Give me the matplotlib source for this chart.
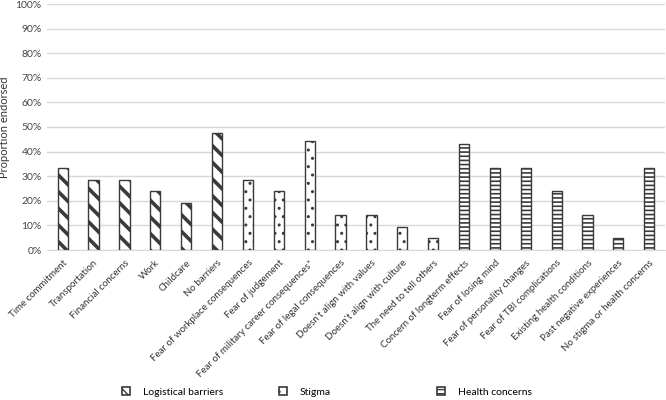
import matplotlib
matplotlib.use("Agg")
import matplotlib.pyplot as plt
from matplotlib.patches import Patch

plt.rcParams['font.family'] = ['Lato', 'DejaVu Sans']

logistical_labels = ["Time commitment", "Transportation", "Financial concerns", "Work",
                     "Childcare", "No barriers"]
logistical_values = [33.3, 28.6, 28.6, 23.8, 19.0, 47.6]

stigma_labels = ["Fear of workplace consequences", "Fear of judgement",
                 "Fear of military career consequences*", "Fear of legal consequences",
                 "Doesn't align with values", "Doesn't align with culture",
                 "The need to tell others"]
stigma_values = [28.6, 23.8, 44.4, 14.3, 14.3, 9.5, 4.8]

health_labels = ["Concern of longterm effects", "Fear of losing mind",
                 "Fear of personality changes", "Fear of TBI complications",
                 "Existing health conditions", "Past negative experiences",
                 "No stigma or health concerns"]
health_values = [42.9, 33.3, 33.3, 23.8, 14.3, 4.8, 33.3]

groups = [
    ("Logistical barriers", logistical_labels, logistical_values, "\\\\", 2.6),
    ("Stigma", stigma_labels, stigma_values, "..", 1.0),
    ("Health concerns", health_labels, health_values, "----", 1.2),
]
legend_x = [122, 279, 437]  # left edge of each legend entry, pixels

fig = plt.figure(figsize=(6.66, 4.0), dpi=100)
ax = fig.add_axes([0.071, 0.375, 0.927, 0.615])

edge = "#3a3a3a"
all_labels = []
pos = 0
for (name, labels, values, hatch, hlw), lx in zip(groups, legend_x):
    xs = list(range(pos, pos + len(labels)))
    with plt.rc_context({'hatch.linewidth': hlw, 'hatch.color': 'black'}):
        ax.bar(xs, values, width=0.33, color="white", edgecolor=edge,
               linewidth=1.0, hatch=hatch, zorder=3)
        h = Patch(facecolor="white", edgecolor=edge, hatch=hatch,
                  linewidth=1.2, label=name)
    fig.legend(handles=[h], loc="center left", bbox_to_anchor=(lx / 666, 1 - 392 / 400),
               frameon=False, fontsize=7.5, handlelength=0.8, handleheight=0.8,
               handletextpad=1.2, borderpad=0, borderaxespad=0)
    all_labels += labels
    pos += len(labels)

ax.set_xlim(-0.5, pos - 0.5)
ax.set_ylim(0, 100)
ax.set_yticks(range(0, 101, 10))
ax.set_yticklabels(["%d%%" % v for v in range(0, 101, 10)], fontsize=7.5, color="#444444")
ax.set_xticks(range(pos))
ax.set_xticklabels(all_labels, rotation=45, ha="right", rotation_mode="anchor",
                   fontsize=7, color="#333333")
ax.tick_params(axis="x", length=0, pad=6)
ax.tick_params(axis="y", length=0, pad=4)
ax.grid(axis="y", color="#d9d9d9", linewidth=1.0, zorder=0)
for s in ["top", "right", "left"]:
    ax.spines[s].set_visible(False)
ax.spines["bottom"].set_color("#d9d9d9")
ax.set_ylabel("Proportion endorsed", fontsize=8, color="#333333", labelpad=4)

fig.savefig("out.png", dpi=100)
